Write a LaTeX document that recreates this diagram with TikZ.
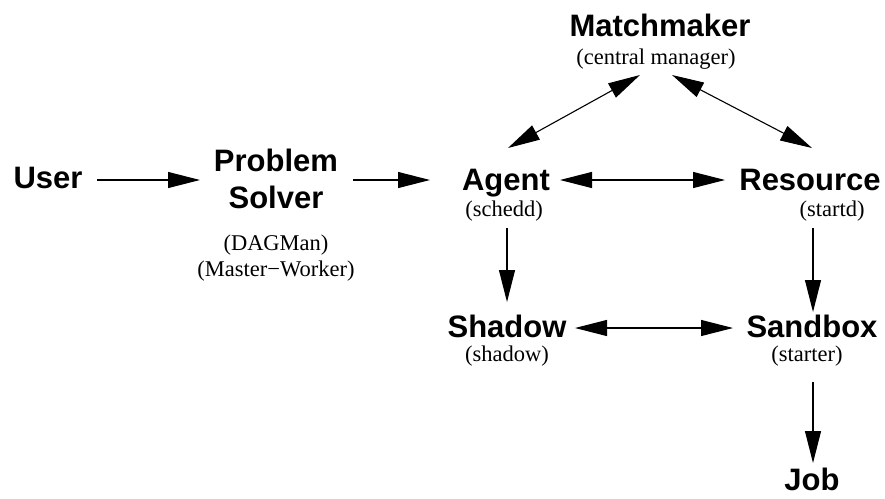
\documentclass[tikz,border=0pt]{standalone}
\usepackage{fontspec}
\setmainfont{Liberation Serif}
\newfontfamily\hdfont{Liberation Sans}
\usetikzlibrary{arrows.meta,calc}
\begin{document}
\begin{tikzpicture}[x=1pt,y=-1pt,
  hd/.style={font=\hdfont\bfseries\fontsize{31}{37}\selectfont, inner sep=0pt, align=center},
  sub/.style={font=\fontsize{22.5}{26}\selectfont, inner sep=0pt, align=center},
  arr/.style={-{Triangle[length=32pt,width=16pt]}, line width=1.1pt},
  biarr/.style={{Triangle[length=32pt,width=16pt]}-{Triangle[length=32pt,width=16pt]}, line width=1.1pt}]
\useasboundingbox (0,0) rectangle (885,498);
% nodes
\node[hd, anchor=base] (user) at (48,188) {User};
\node[hd] (ps) at (276,179) {Problem\\Solver};
\node[sub] (psd) at (276,258) {(DAGMan)\\(Master−Worker)};
\node[hd, anchor=base] (mm) at (660,36) {Matchmaker};
\node[sub, anchor=base] (mmd) at (656,64) {(central manager)};
\node[hd, anchor=base] (agent) at (506,190) {Agent};
\node[sub, anchor=base] (agentd) at (504,216) {(schedd)};
\node[hd, anchor=base] (res) at (810,190) {Resource};
\node[sub, anchor=base] (resd) at (832,216) {(startd)};
\node[hd, anchor=base] (shadow) at (507,337) {Shadow};
\node[sub, anchor=base] (shadowd) at (507,361) {(shadow)};
\node[hd, anchor=base] (sandbox) at (812,337) {Sandbox};
\node[sub, anchor=base] (sandboxd) at (807,361) {(starter)};
\node[hd, anchor=base] (job) at (812,490) {Job};
% connectors
\draw[arr] ($(user.base)+(49,-8)$) -- ($(ps)+(-76,1)$);
\draw[arr] ($(ps)+(77,1)$) -- ($(agent.base)+(-76,-10)$);
\draw[biarr] ($(agent.base)+(54,-10)$) -- ($(res.base)+(-85,-10)$);
\draw[biarr] ($(mmd.base)+(-16,11)$) -- ($(agent.base)+(2,-42)$);
\draw[biarr] ($(mmd.base)+(16,11)$) -- ($(res.base)+(2,-42)$);
\draw[arr] ($(agentd.base)+(3,12)$) -- ($(shadow.base)+(0,-35)$);
\draw[biarr] ($(shadow.base)+(68,-9)$) -- ($(sandbox.base)+(-79,-9)$);
\draw[arr] ($(resd.base)+(-19,12)$) -- ($(sandbox.base)+(1,-25)$);
\draw[arr] ($(sandboxd.base)+(6,21)$) -- ($(job.base)+(1,-27)$);
\end{tikzpicture}
\end{document}
